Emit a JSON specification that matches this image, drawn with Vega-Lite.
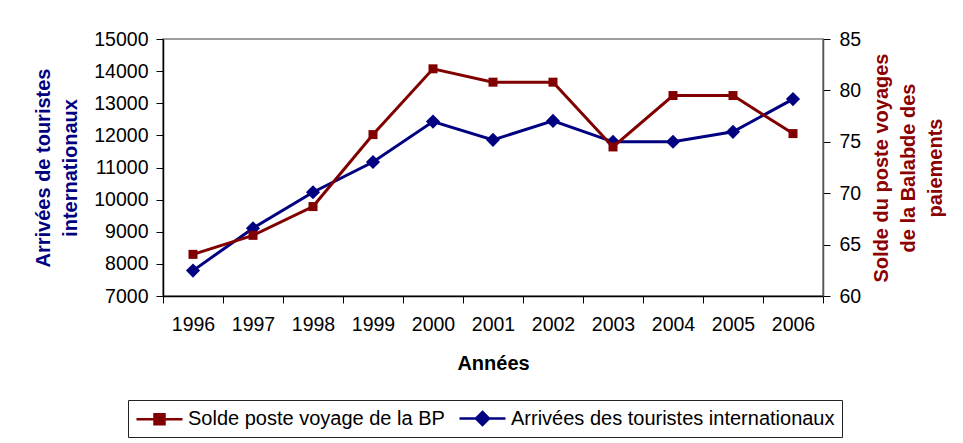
{
  "$schema": "https://vega.github.io/schema/vega-lite/v6.json",
  "autosize": "none",
  "width": 660,
  "height": 257,
  "padding": {"left": 163, "top": 39, "right": 140, "bottom": 147},
  "background": "white",
  "config": {
    "font": "Liberation Sans",
    "view": {"stroke": "#808080", "strokeWidth": 1.5},
    "axis": {"labelFont": "Liberation Sans", "titleFont": "Liberation Sans", "labelFontSize": 19.5, "labelColor": "black", "tickColor": "black", "domainColor": "black", "tickSize": 7, "grid": false, "titleFontSize": 20, "titleFontWeight": "bold", "titleLineHeight": 27}
  },
  "data": {
    "values": [
      {"year": "1996", "arrivees": 7790, "solde": 64.05},
      {"year": "1997", "arrivees": 9110, "solde": 65.9},
      {"year": "1998", "arrivees": 10230, "solde": 68.7},
      {"year": "1999", "arrivees": 11170, "solde": 75.7},
      {"year": "2000", "arrivees": 12430, "solde": 82.1},
      {"year": "2001", "arrivees": 11860, "solde": 80.8},
      {"year": "2002", "arrivees": 12450, "solde": 80.8},
      {"year": "2003", "arrivees": 11800, "solde": 74.5},
      {"year": "2004", "arrivees": 11800, "solde": 79.5},
      {"year": "2005", "arrivees": 12110, "solde": 79.5},
      {"year": "2006", "arrivees": 13130, "solde": 75.8}
    ]
  },
  "encoding": {
    "x": {
      "field": "year", "type": "ordinal",
      "scale": {"type": "band", "paddingInner": 0, "paddingOuter": 0},
      "axis": {"title": "Années", "labelAngle": 0, "tickBand": "extent", "labelPadding": 12, "titlePadding": 20, "domainWidth": 1.5}
    },
    "color": {
      "scale": {"domain": ["Solde poste voyage de la BP", "Arrivées des touristes internationaux"], "range": ["#800000", "#000080"]},
      "legend": {
        "title": null, "orient": "none", "legendX": -35, "legendY": 361, "direction": "horizontal",
        "strokeColor": "#222222", "fillColor": "white", "padding": 7, "columnPadding": 9,
        "labelFont": "Liberation Sans", "labelFontSize": 20, "labelColor": "black", "labelOffset": 30, "labelLimit": 0,
        "symbolSize": 400, "symbolStrokeWidth": 2.5,
        "encode": {"symbols": {"update": {
          "shape": {"signal": "datum.value === 'Solde poste voyage de la BP' ? 'M-1,0H3.6M0.8,-0.5H1.8V0.5H0.8Z' : 'M-1,0H3.6M1.3,-0.65L1.95,0L1.3,0.65L0.65,0Z'"},
          "fill": {"signal": "datum.value === 'Solde poste voyage de la BP' ? '#800000' : '#000080'"},
          "stroke": {"signal": "datum.value === 'Solde poste voyage de la BP' ? '#800000' : '#000080'"},
          "opacity": {"value": 1}, "fillOpacity": {"value": 1}, "strokeOpacity": {"value": 1}
        }}}
      }
    }
  },
  "layer": [
    {
      "encoding": {
        "y": {
          "field": "arrivees", "type": "quantitative",
          "scale": {"domain": [7000, 15000], "nice": false, "zero": false},
          "axis": {"orient": "left", "values": [7000, 8000, 9000, 10000, 11000, 12000, 13000, 14000, 15000], "format": "d", "title": ["Arrivées de touristes", "internationaux"], "titleColor": "#000080", "titlePadding": 13, "labelPadding": 8, "domainWidth": 1.5}
        },
        "color": {"datum": "Arrivées des touristes internationaux"}
      },
      "layer": [
        {"mark": {"type": "line", "strokeWidth": 3}},
        {"mark": {"type": "point", "shape": "diamond", "filled": true, "size": 200, "opacity": 1}}
      ]
    },
    {
      "encoding": {
        "y": {
          "field": "solde", "type": "quantitative",
          "scale": {"domain": [60, 85], "nice": false, "zero": false},
          "axis": {"orient": "right", "values": [60, 65, 70, 75, 80, 85], "title": ["Solde du poste voyages", "de la Balabde des", "paiements"], "titleColor": "#8B0000", "titleAngle": 270, "titlePadding": -23, "labelPadding": 9, "domainColor": "#555555", "domainWidth": 1.5}
        },
        "color": {"datum": "Solde poste voyage de la BP"}
      },
      "layer": [
        {"mark": {"type": "line", "strokeWidth": 3}},
        {"mark": {"type": "point", "shape": "square", "filled": true, "size": 81, "opacity": 1}}
      ]
    }
  ],
  "resolve": {"scale": {"y": "independent"}}
}
